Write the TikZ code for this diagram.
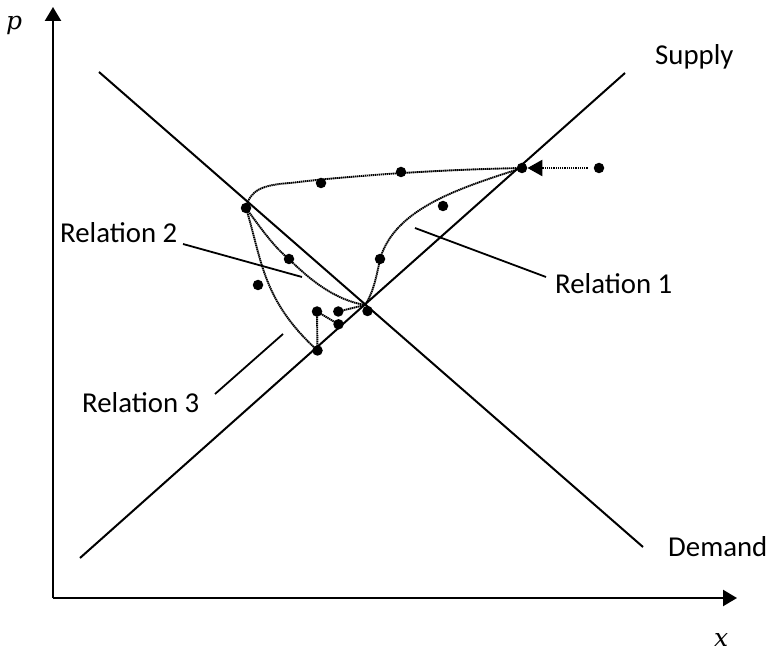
\documentclass[tikz,border=0pt]{standalone}
\usepackage{fontspec}
\setmainfont{Carlito}
\newfontfamily\mathlabfont{DejaVu Serif}
\usetikzlibrary{arrows.meta}
\begin{document}
\begin{tikzpicture}[x=1pt,y=-1pt,
  ax/.style={line width=2.4pt,-{Triangle[length=14pt,width=16pt]}},
  mline/.style={line width=2pt},
  lbl/.style={line width=1.8pt},
  dotline/.style={line width=1.9pt,dash pattern=on 1.4pt off 0.6pt},
  arrline/.style={line width=2.6pt,dash pattern=on 1.1pt off 1.1pt,-{Triangle[length=15pt,width=16pt]}},
  dot/.style={circle,fill=black,inner sep=0pt,minimum size=10.5pt},
  txt/.style={anchor=base west,inner sep=0pt,font=\fontsize{28.8}{34}\selectfont},
  mth/.style={anchor=base west,inner sep=0pt,font=\mathlabfont\itshape\fontsize{25}{30}\selectfont}]
\useasboundingbox (0,0) rectangle (766,652);
% axes
\coordinate (O) at (53,598);
\coordinate (ytip) at (53,7);
\coordinate (xtip) at (737,598);
\draw[ax] (O) -- (ytip);
\draw[ax] (O) -- (xtip);
\node[mth] (plab) at (6,30) {p};
\node[mth] (xlab) at (714,646) {x};
% supply and demand
\coordinate (s1) at (80,558);
\coordinate (s2) at (625,73);
\coordinate (d1) at (99,72);
\coordinate (d2) at (643,547);
\draw[mline] (s1) -- (s2);
\draw[mline] (d1) -- (d2);
\node[txt] (supply) at (655,65) {Supply};
\node[txt] (demand) at (668,556) {Demand};
% dots
\node[dot] (A) at (599,168) {};
\node[dot] (B) at (522,168) {};
\node[dot] (C) at (401,172) {};
\node[dot] (D) at (321,183) {};
\node[dot] (E) at (246,208) {};
\node[dot] (F) at (443,206) {};
\node[dot] (G) at (380,259) {};
\node[dot] (H) at (289,259) {};
\node[dot] (I) at (258,285) {};
\node[dot] (J) at (367.5,311) {};
\node[dot] (K) at (317,311.5) {};
\node[dot] (L) at (338.3,311.5) {};
\node[dot] (M) at (338.5,324.3) {};
\node[dot] (N) at (317.5,350.5) {};
\coordinate (Q) at (365,305);
% dynamic paths
\draw[arrline,shorten <=6pt] (A) -- (B);
\draw[dotline] (B.center) .. controls (420,170) and (330,178) .. (290,183)
   .. controls (262,185) and (250,190) .. (E.center);
\draw[dotline] (B.center) .. controls (460,188) and (395,208) .. (G.center)
   .. controls (376,280) and (372,295) .. (Q);
\draw[dotline] (E.center) .. controls (262,230) and (275,248) .. (H.center)
   .. controls (310,280) and (335,300) .. (Q);
\draw[dotline] (E.center) .. controls (262,260) and (262,300) .. (N.center);
\draw[dotline] (N.center) -- (K.center);
\draw[dotline] (K.center) -- (M.center);
\draw[dotline] (L.center) -- (Q);
% labels
\node[txt] (r1) at (555,294) {Relation 1};
\node[txt] (r2) at (60,243) {Relation 2};
\node[txt] (r3) at (82,412) {Relation 3};
\coordinate (r1a) at (415,228);
\coordinate (r1b) at (546,277);
\coordinate (r2a) at (183,244);
\coordinate (r2b) at (302,277);
\coordinate (r3a) at (215,394);
\coordinate (r3b) at (283,334);
\draw[lbl] (r1a) -- (r1b);
\draw[lbl] (r2a) -- (r2b);
\draw[lbl] (r3a) -- (r3b);
\end{tikzpicture}
\end{document}
